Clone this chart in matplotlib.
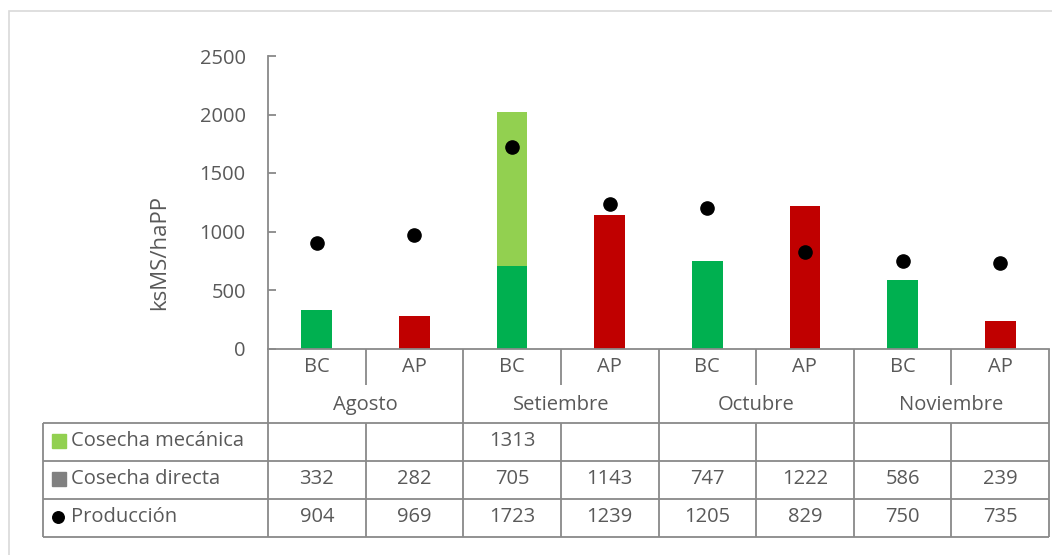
import matplotlib
matplotlib.use("Agg")
import matplotlib.pyplot as plt
from matplotlib.transforms import blended_transform_factory
from matplotlib.patches import Rectangle

plt.rcParams['font.family'] = ['Open Sans', 'DejaVu Sans']

# Data
months = ["Agosto", "Setiembre", "Octubre", "Noviembre"]
groups = ["BC", "AP", "BC", "AP", "BC", "AP", "BC", "AP"]
cosecha_mecanica = [None, None, 1313, None, None, None, None, None]
cosecha_directa = [332, 282, 705, 1143, 747, 1222, 586, 239]
produccion = [904, 969, 1723, 1239, 1205, 829, 750, 735]
y_ticks = [0, 500, 1000, 1500, 2000, 2500]

GREEN = "#00B050"
RED = "#C00000"
LIGHT_GREEN = "#92D050"
GRAY_KEY = "#808080"
LINE = "#898989"
TEXT = "#595959"
FS = 14.5

W, H = 1052, 555
fig = plt.figure(figsize=(W / 100, H / 100), dpi=100)
fig.patch.set_facecolor("white")

# outer chart frame
fig.patches.append(Rectangle((9 / W, -0.1), 1.2, (H - 11) / H + 0.1,
                             transform=fig.transFigure, fill=False,
                             edgecolor="#D9D9D9", linewidth=1.2))

x0, x1 = 268, 1049
y_top, y_bot = 56, 348.5
ax = fig.add_axes([x0 / W, (H - y_bot) / H, (x1 - x0) / W, (y_bot - y_top) / H])

n = len(groups)
xs = list(range(n))
bar_w = 0.315
directa_colors = [GREEN if g == "BC" else RED for g in groups]
ax.bar(xs, cosecha_directa, width=bar_w, color=directa_colors, zorder=2)
mec_vals = [v if v is not None else 0 for v in cosecha_mecanica]
ax.bar(xs, mec_vals, width=bar_w, bottom=cosecha_directa, color=LIGHT_GREEN, zorder=2)
ax.plot(xs, produccion, linestyle="none", marker="o", markersize=9.5,
        color="black", zorder=3)

ax.set_xlim(-0.5, n - 0.5)
ax.set_ylim(0, 2500)
ax.set_yticks(y_ticks)
ax.set_xticks([])
for s in ["top", "right"]:
    ax.spines[s].set_visible(False)
for s in ["left", "bottom"]:
    ax.spines[s].set_color(LINE)
    ax.spines[s].set_linewidth(1.3)
ax.tick_params(axis="y", direction="in", length=5.5, width=1.3, color=LINE,
               labelsize=FS, labelcolor=TEXT, pad=16)

ph = y_bot - y_top


def fy(py):
    return (y_bot - py) / ph


ax.text((160 - x0) / (x1 - x0), fy(252), "ksMS/haPP", transform=ax.transAxes,
        rotation=90, ha="center", va="center", fontsize=16, color=TEXT)

# data table under the plot
tr = blended_transform_factory(ax.transData, ax.transAxes)
col_px = (x1 - x0) / n
left_x = -0.5 - (x0 - 43) / col_px
kw = dict(color=LINE, linewidth=1.3, transform=tr, clip_on=False, solid_capstyle="butt")

r_sub = fy(385)
rows = [fy(423), fy(461), fy(499), fy(537)]

# group separators inside each month
for xv in [0.5, 2.5, 4.5, 6.5]:
    ax.plot([xv, xv], [0, r_sub], **kw)
# month separators through the table
for xv in [-0.5, 1.5, 3.5, 5.5, 7.5]:
    ax.plot([xv, xv], [0, rows[-1]], **kw)
# column separators in the value rows
for xv in [0.5, 2.5, 4.5, 6.5]:
    ax.plot([xv, xv], [rows[0], rows[-1]], **kw)
ax.plot([left_x, left_x], [rows[0], rows[-1]], **kw)
for r in rows:
    ax.plot([left_x, n - 0.5], [r, r], **kw)

tkw = dict(transform=tr, ha="center", va="center", fontsize=FS, color=TEXT, clip_on=False)
for i, g in enumerate(groups):
    ax.text(i, fy(367), g, **tkw)
for m, mname in enumerate(months):
    ax.text(2 * m + 0.5, fy(405), mname, **tkw)

row_centers = [fy(441), fy(479), fy(517)]
series_rows = [cosecha_mecanica, cosecha_directa, produccion]
for rc, vals in zip(row_centers, series_rows):
    for i, v in enumerate(vals):
        if v is not None:
            ax.text(i, rc, str(v), **tkw)

# row headers with legend keys
labels = ["Cosecha mecánica", "Cosecha directa", "Producción"]
key_x = -0.5 - (x0 - 59) / col_px
dot_x = -0.5 - (x0 - 58) / col_px
txt_x = -0.5 - (x0 - 71) / col_px
ax.plot([key_x], [row_centers[0]], marker="s", markersize=10, color=LIGHT_GREEN,
        transform=tr, clip_on=False, linestyle="none")
ax.plot([key_x], [row_centers[1]], marker="s", markersize=10, color=GRAY_KEY,
        transform=tr, clip_on=False, linestyle="none")
ax.plot([dot_x], [row_centers[2]], marker="o", markersize=8.3, color="black",
        transform=tr, clip_on=False, linestyle="none")
for rc, lab in zip(row_centers, labels):
    ax.text(txt_x, rc, lab, transform=tr, ha="left", va="center", fontsize=FS,
            color=TEXT, clip_on=False)

fig.savefig("out.png", dpi=100, facecolor="white")
